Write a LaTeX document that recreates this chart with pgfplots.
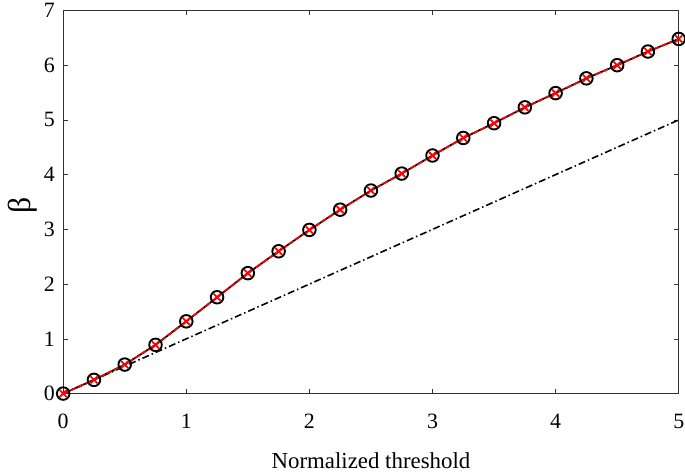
\documentclass[border=0pt]{standalone}
\usepackage{pgfplots}
\pgfplotsset{compat=1.18}
\usepackage{fontspec}
\setmainfont{Liberation Serif}
\begin{document}
\begin{tikzpicture}
\begin{axis}[
  scale only axis,
  width=617bp, height=384bp,
  xmin=0, xmax=5, ymin=0, ymax=7,
  xtick={0,1,2,3,4,5}, ytick={0,1,2,3,4,5,6,7},
  tick align=inside, major tick length=5bp,
  xtick pos=both, ytick pos=both,
  /pgf/number format/assume math mode=true,
  tick label style={font=\fontsize{22}{24}\selectfont},
  yticklabel style={xshift=-5bp},
  xticklabel style={yshift=-17bp, inner xsep=0pt},
  xlabel={Normalized threshold},
  xlabel style={font=\fontsize{23}{25}\selectfont, yshift=-17bp},
  ylabel={β},
  ylabel style={font=\fontsize{32}{34}\selectfont, at={(axis description cs:-0.066,0.49)}, anchor=center, inner ysep=8bp},
  axis line style={line width=0.7pt, black!80},
  every tick/.style={black!80, line width=0.6pt},
]
\addplot[black, dash pattern=on 7bp off 3bp on 1.5bp off 3bp, line width=1.6pt] coordinates {(0,0) (5,5)};
\addplot[black, line width=1.8pt, mark=o, mark size=6.3bp, mark options={line width=1.9pt}] coordinates {
(0,0) (0.25,0.25) (0.5,0.53) (0.75,0.89) (1,1.32) (1.25,1.76) (1.5,2.20) (1.75,2.60)
(2,2.99) (2.25,3.36) (2.5,3.71) (2.75,4.02) (3,4.35) (3.25,4.67) (3.5,4.94) (3.75,5.23)
(4,5.49) (4.25,5.76) (4.5,6.00) (4.75,6.25) (5,6.48)};
\addplot[red, dash pattern=on 6bp off 2bp, line width=1.7pt, mark=x, mark size=5bp, mark options={solid, line width=1.8pt}] coordinates {
(0,0) (0.25,0.25) (0.5,0.53) (0.75,0.89) (1,1.32) (1.25,1.76) (1.5,2.20) (1.75,2.60)
(2,2.99) (2.25,3.36) (2.5,3.71) (2.75,4.02) (3,4.35) (3.25,4.67) (3.5,4.94) (3.75,5.23)
(4,5.49) (4.25,5.76) (4.5,6.00) (4.75,6.25) (5,6.48)};
\end{axis}
\end{tikzpicture}
\end{document}
